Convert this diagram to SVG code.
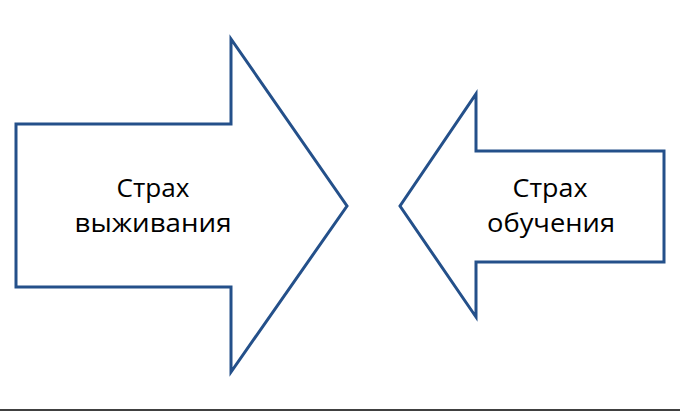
<svg xmlns="http://www.w3.org/2000/svg" width="680" height="412" viewBox="0 0 680 412">
<style>
.arrow{fill:#ffffff;stroke:#24508a;stroke-width:3;stroke-linejoin:miter}
.lbl{font-family:"Open Sans","Liberation Sans",sans-serif;font-size:26px;fill:#000;text-anchor:middle}
</style>
<rect width="680" height="412" fill="#ffffff"/>
<g id="survival">
<polygon class="arrow" points="16,124 231,124 231,39 347,206 231,372 231,287 16,287"/>
<text class="lbl" x="153" y="197" textLength="73" lengthAdjust="spacingAndGlyphs">Страх</text>
<text class="lbl" x="153" y="232" textLength="157" lengthAdjust="spacingAndGlyphs">выживания</text>
</g>
<g id="learning">
<polygon class="arrow" points="664,151 476,151 476,94 400,206 476,317 476,262 664,262"/>
<text class="lbl" x="550" y="197" textLength="75" lengthAdjust="spacingAndGlyphs">Страх</text>
<text class="lbl" x="551" y="232" textLength="128" lengthAdjust="spacingAndGlyphs">обучения</text>
</g>
<g id="connectors"></g>
<line x1="0" y1="410" x2="680" y2="410" stroke="#000" stroke-width="1.5"/>
</svg>
